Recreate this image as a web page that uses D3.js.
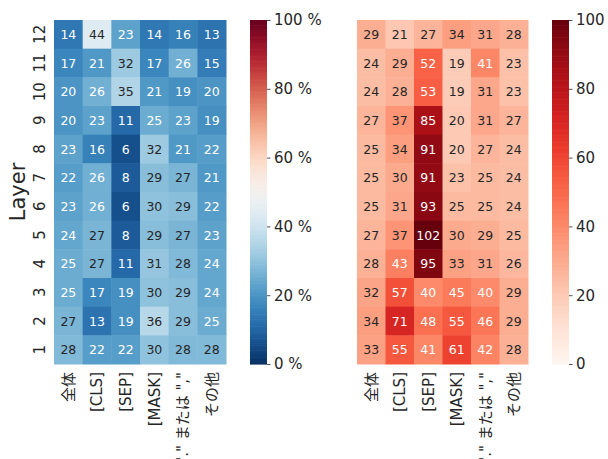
<!DOCTYPE html>
<html>
<head>
<meta charset="utf-8">
<script src="https://cdn.jsdelivr.net/npm/d3@7"></script>
<style>
  body { margin: 0; background: #fff; }
  svg text { font-family: "DejaVu Sans", "Noto Sans CJK JP", sans-serif; fill: #262626; }
</style>
</head>
<body>
<div id="container"></div>
<script>
/* DATA */
const columns = ["全体", "[CLS]", "[SEP]", "[MASK]", "\".\" または \",\"", "その他"];
const layers = [12, 11, 10, 9, 8, 7, 6, 5, 4, 3, 2, 1];

// left: ratio (%) — rows from layer 12 down to 1
const ratioValues = [
  [14, 44, 23, 14, 16, 13],
  [17, 21, 32, 17, 26, 15],
  [20, 26, 35, 21, 19, 20],
  [20, 23, 11, 25, 23, 19],
  [23, 16, 6, 32, 21, 22],
  [22, 26, 8, 29, 27, 21],
  [23, 26, 6, 30, 29, 22],
  [24, 27, 8, 29, 27, 23],
  [25, 27, 11, 31, 28, 24],
  [25, 17, 19, 30, 29, 24],
  [27, 13, 19, 36, 29, 25],
  [28, 22, 22, 30, 28, 28]
];

// right: values — rows from layer 12 down to 1
const normValues = [
  [29, 21, 27, 34, 31, 28],
  [24, 29, 52, 19, 41, 23],
  [24, 28, 53, 19, 31, 23],
  [27, 37, 85, 20, 31, 27],
  [25, 34, 91, 20, 27, 24],
  [25, 30, 91, 23, 25, 24],
  [25, 31, 93, 25, 25, 24],
  [27, 37, 102, 30, 29, 25],
  [28, 43, 95, 33, 31, 26],
  [32, 57, 40, 45, 40, 29],
  [34, 71, 48, 55, 46, 29],
  [33, 55, 41, 61, 42, 28]
];

const cbarTicks = [0, 20, 40, 60, 80, 100];

/* CONSTANTS */
const width = 608;
const height = 459;
const plotTop = 20, plotBottom = 364;

const svg = d3.select("#container")
  .append("svg")
  .attr("width", width)
  .attr("height", height);

// seaborn-like annotation colour
function textColor(c) {
  const rgb = d3.rgb(c);
  const lin = v => { v /= 255; return v <= 0.03928 ? v / 12.92 : Math.pow((v + 0.055) / 1.055, 2.4); };
  const lum = 0.2126 * lin(rgb.r) + 0.7152 * lin(rgb.g) + 0.0722 * lin(rgb.b);
  return lum > 0.408 ? "#262626" : "#ffffff";
}

function heatmap(data, left, right, interp, cbLeft, fmt, showY) {
  const xScale = d3.scaleBand().domain(columns).range([left, right]);
  const yScale = d3.scaleBand().domain(layers).range([plotTop, plotBottom]);
  const color = d3.scaleSequential(interp).domain([0, 100]).clamp(true);

  const cells = [];
  data.forEach((row, i) => row.forEach((v, j) => cells.push({ layer: layers[i], col: columns[j], v })));

  const g = svg.append("g");
  g.selectAll("rect")
    .data(cells)
    .join("rect")
    .attr("x", d => xScale(d.col))
    .attr("y", d => yScale(d.layer))
    .attr("width", xScale.bandwidth() + 0.5)
    .attr("height", yScale.bandwidth() + 0.5)
    .attr("fill", d => color(d.v));

  g.selectAll("text.ann")
    .data(cells)
    .join("text")
    .attr("class", "ann")
    .attr("x", d => xScale(d.col) + xScale.bandwidth() / 2)
    .attr("y", d => yScale(d.layer) + yScale.bandwidth() / 2)
    .attr("text-anchor", "middle")
    .attr("dominant-baseline", "central")
    .style("font-size", "12.5px")
    .style("fill", d => textColor(color(d.v)))
    .text(d => d.v);

  // x axis
  const xAxis = svg.append("g")
    .attr("transform", `translate(0,${plotBottom})`)
    .call(d3.axisBottom(xScale).tickSize(0).tickPadding(0));
  xAxis.select(".domain").remove();
  xAxis.selectAll("text")
    .style("font-size", "15px")
    .attr("transform", "translate(0,8)rotate(-90)")
    .attr("x", 0)
    .attr("y", 0)
    .attr("dy", "0.35em")
    .style("text-anchor", "end");

  // y axis
  if (showY) {
    const yAxis = svg.append("g")
      .attr("transform", `translate(${left},0)`)
      .call(d3.axisLeft(yScale).tickSize(0).tickPadding(0));
    yAxis.select(".domain").remove();
    yAxis.selectAll(".tick text")
      .style("font-size", "15px")
      .attr("x", 0)
      .attr("dy", 0)
      .attr("transform", "translate(-9,0)rotate(-90)")
      .style("text-anchor", "middle");

    svg.append("text")
      .attr("transform", `translate(25,${(plotTop + plotBottom) / 2})rotate(-90)`)
      .attr("text-anchor", "middle")
      .style("font-size", "21px")
      .text("Layer");
  }

  // colorbar
  const cbW = 17;
  const cScale = d3.scaleLinear().domain([0, 100]).range([plotBottom, plotTop]);
  const steps = d3.range(0, 100, 0.5);
  svg.append("g")
    .selectAll("rect")
    .data(steps)
    .join("rect")
    .attr("x", cbLeft)
    .attr("y", d => cScale(d + 0.5))
    .attr("width", cbW)
    .attr("height", Math.abs(cScale(0) - cScale(0.5)) + 0.6)
    .attr("fill", d => color(d + 0.25));

  const cAxis = svg.append("g")
    .attr("transform", `translate(${cbLeft + cbW},0)`)
    .call(d3.axisRight(cScale).tickValues(cbarTicks).tickSize(3.5).tickPadding(3.5).tickFormat(fmt));
  cAxis.select(".domain").remove();
  cAxis.selectAll("line").attr("stroke", "#262626").attr("stroke-width", 0.8);
  cAxis.selectAll("text").style("font-size", "15px");
}

heatmap(ratioValues, 54, 226, t => d3.interpolateRdBu(1 - t), 250, d => d + " %", true);
heatmap(normValues, 357, 528, d3.interpolateReds, 552, d => d, false);
</script>
</body>
</html>
